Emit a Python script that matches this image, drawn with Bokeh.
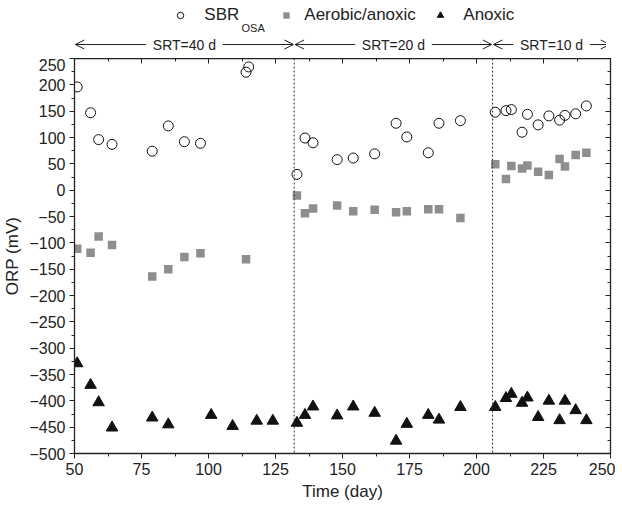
from bokeh.plotting import figure
from bokeh.layouts import column
from bokeh.models import (LinearAxis, Range1d, Span, Label, Arrow, OpenHead,
                          Legend, LegendItem, SingleIntervalTicker, CustomJSTickFormatter)
from bokeh.embed import file_html
from bokeh.resources import INLINE

# ---- data ----
days_sbr = [51, 56, 59, 64, 79, 85, 91, 97, 114, 115, 133, 136, 139, 148, 154, 162,
            170, 174, 182, 186, 194, 207, 211, 213, 217, 219, 223, 227, 231, 233, 237, 241]
orp_sbr = [196, 147, 96, 87, 74, 122, 92, 89, 224, 234, 30, 99, 90, 58, 61, 69,
           127, 101, 71, 127, 132, 148, 151, 153, 110, 144, 124, 141, 133, 142, 145, 160]

days_aa = [51, 56, 59, 64, 79, 85, 91, 97, 114, 133, 136, 139, 148, 154, 162,
           170, 174, 182, 186, 194, 207, 211, 213, 217, 219, 223, 227, 231, 233, 237, 241]
orp_aa = [-111, -119, -88, -104, -164, -150, -127, -120, -131, -10, -44, -35, -29, -40, -37,
          -42, -40, -36, -36, -53, 49, 21, 46, 41, 47, 35, 29, 59, 45, 67, 71]

days_ax = [51, 56, 59, 64, 79, 85, 101, 109, 118, 124, 133, 136, 139, 148, 154, 162,
           170, 174, 182, 186, 194, 207, 211, 213, 217, 219, 223, 227, 231, 233, 237, 241]
orp_ax = [-329, -370, -403, -451, -432, -445, -427, -448, -438, -438, -442, -427, -411, -428, -411, -423,
          -476, -444, -427, -436, -412, -412, -395, -387, -404, -394, -431, -400, -437, -400, -418, -437]

srt_changes = [132, 206]
srt_periods = [(50, 132, "SRT=40 d"), (132, 206, "SRT=20 d"), (206, 250, "SRT=10 d")]

FONT = "Liberation Sans"
INK = "#222222"
LEFT, RIGHT, FW = 65, 5, 536
HEAD_H = 58

# ---------------- main plot ----------------
p = figure(frame_width=FW, frame_height=395, output_backend="svg", toolbar_location=None,
           x_range=Range1d(50, 250), y_range=Range1d(-500, 250),
           min_border_left=LEFT, min_border_right=RIGHT, min_border_top=0, min_border_bottom=46,
           x_axis_label="Time (day)", y_axis_label="ORP (mV)")
p.xgrid.visible = False
p.ygrid.visible = False
p.outline_line_color = None

xt = SingleIntervalTicker(interval=25, num_minor_ticks=2)
yt = SingleIntervalTicker(interval=50, num_minor_ticks=2)
p.xaxis.ticker = xt
p.yaxis.ticker = yt

for ax in (p.xaxis[0], p.yaxis[0]):
    ax.axis_line_color = INK
    ax.axis_line_width = 1.3
    ax.major_tick_line_color = INK
    ax.minor_tick_line_color = INK
    ax.major_tick_out = 5
    ax.major_tick_in = 0
    ax.minor_tick_out = 3
    ax.minor_tick_in = 0
    ax.major_label_text_font = FONT
    ax.major_label_text_font_size = "16px"
    ax.major_label_text_color = INK
    ax.axis_label_text_font = FONT
    ax.axis_label_text_font_size = "17px"
    ax.axis_label_text_font_style = "normal"
    ax.axis_label_text_color = INK
    ax.major_label_standoff = 4
    ax.axis_label_standoff = 4

for loc, tk in (("above", xt), ("right", yt)):
    ax = LinearAxis(ticker=tk, formatter=CustomJSTickFormatter(code="return ''"))
    ax.axis_line_color = INK
    ax.axis_line_width = 1.3
    ax.major_tick_line_color = INK
    ax.minor_tick_line_color = INK
    ax.major_tick_out = 0
    ax.major_tick_in = 5
    ax.minor_tick_out = 0
    ax.minor_tick_in = 3
    ax.major_label_text_color = None
    ax.major_label_standoff = 0
    p.add_layout(ax, loc)

for d in srt_changes:
    p.add_layout(Span(location=d, dimension="height", line_color="#333333",
                      line_width=1, line_dash="2 2"))

p.scatter(days_sbr, orp_sbr, marker="circle", size=10, fill_color=None,
          line_color="#111111", line_width=1)
p.scatter(days_aa, orp_aa, marker="square", size=8.5, fill_color="#8e8e8e", line_color=None)
p.scatter(days_ax, orp_ax, marker="triangle", size=11.5, fill_color="#111111",
          line_color="#111111")

# ---------------- header (legend + SRT arrows) ----------------
h = figure(frame_width=FW, frame_height=HEAD_H, output_backend="svg", toolbar_location=None,
           x_range=p.x_range, y_range=Range1d(0, HEAD_H),
           x_axis_type=None, y_axis_type=None,
           min_border_left=LEFT, min_border_right=RIGHT, min_border_top=0, min_border_bottom=0)
h.xgrid.visible = False
h.ygrid.visible = False
h.outline_line_color = None

# legend-only renderers: their single point lies outside the header's y range
l_sbr = h.scatter(days_sbr[:1], orp_sbr[:1], marker="circle", size=10, fill_color=None,
                  line_color="#111111", line_width=1)
l_aa = h.scatter(days_aa[:1], orp_aa[:1], marker="square", size=8.5, fill_color="#8e8e8e",
                 line_color=None)
l_ax = h.scatter(days_ax[:1], orp_ax[:1], marker="triangle", size=11.5, fill_color="#111111",
                 line_color="#111111")

LEG_Y = HEAD_H - 16 - 9  # bottom of legend box (screen px from header bottom)

def make_legend(label, rend, x, standoff):
    lg = Legend(items=[LegendItem(label=label, renderers=[rend])], location=(x, LEG_Y),
                orientation="horizontal", padding=0, margin=0, spacing=0,
                border_line_color=None, background_fill_alpha=0,
                label_text_font=FONT, label_text_font_size="17px",
                label_text_color=INK, label_standoff=standoff,
                glyph_width=16, glyph_height=18, label_height=18)
    h.add_layout(lg, "center")

make_legend("SBR", l_sbr, 149, 16)
make_legend("Aerobic/anoxic", l_aa, 255, 10)
make_legend("Anoxic", l_ax, 409, 15)
h.add_layout(Label(x=167, y=HEAD_H - 27, x_units="screen", y_units="screen", text="OSA",
                   text_font=FONT, text_font_size="11px", text_color=INK,
                   text_baseline="middle"))

Y_ARR = HEAD_H - 44
for (a, b, txt) in srt_periods:
    mid = (a + b) / 2
    h.add_layout(Label(x=mid, y=Y_ARR, text=txt, text_font=FONT, text_font_size="14px",
                       text_color=INK, text_align="center", text_baseline="middle"))
    gap = 14.3
    for x0, x1 in ((mid - gap, a + 0.3), (mid + gap, b - 0.3)):
        h.add_layout(Arrow(x_start=x0, y_start=Y_ARR, x_end=x1, y_end=Y_ARR,
                           line_color=INK, line_width=1,
                           end=OpenHead(size=9, line_color=INK, line_width=1)))

layout = column(h, p, spacing=0)
open("out.html", "w").write(file_html(layout, INLINE))
